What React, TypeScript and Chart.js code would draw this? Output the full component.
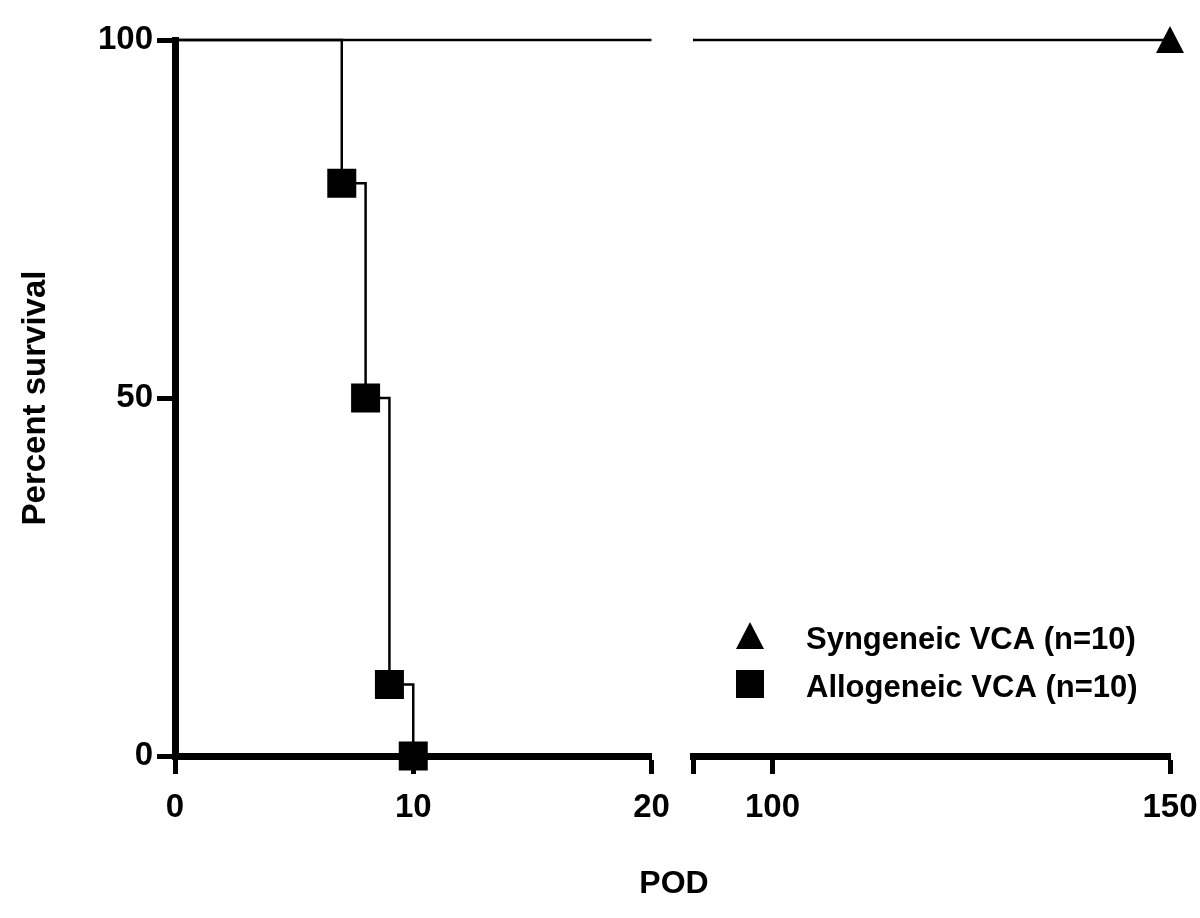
import { useEffect, useRef } from "react";
import { Chart, registerables } from "chart.js";

Chart.register(...registerables);

const FONT = '"Liberation Sans", Arial, Helvetica, sans-serif';

// Kaplan-Meier steps (day, percent surviving)
const syngeneicDays = [0, 150];
const syngeneicSurvival = [100, 100];
const allogeneicDays = [0, 7, 8, 9, 10];
const allogeneicSurvival = [100, 80, 50, 10, 0];

const seriesLabels = ["Syngeneic VCA (n=10)", "Allogeneic VCA (n=10)"];

// the x axis is broken in two segments
const leftXTicks = [0, 10, 20];
const rightXTicks = [90, 100, 150];
const unlabelledTicks = [90];
const yTicks = [0, 50, 100];

const AXIS_HEIGHT = 162;
const tickFont = { family: FONT, size: 33, weight: "bold" as const };

function makeTriangle(size: number) {
  const c = document.createElement("canvas");
  c.width = size;
  c.height = size;
  const g = c.getContext("2d")!;
  g.fillStyle = "#000";
  g.beginPath();
  g.moveTo(size / 2, 0);
  g.lineTo(size, size - 1);
  g.lineTo(0, size - 1);
  g.closePath();
  g.fill();
  return c;
}

function buildDatasets(tri: HTMLCanvasElement, clip: any) {
  return [
    {
      label: seriesLabels[0],
      data: syngeneicDays.map((d, i) => ({ x: d, y: syngeneicSurvival[i] })),
      stepped: true,
      borderColor: "#000",
      borderWidth: 2.5,
      pointStyle: tri,
      pointRadius: syngeneicDays.map((_, i) => (i === syngeneicDays.length - 1 ? 14 : 0)),
      clip,
    },
    {
      label: seriesLabels[1],
      data: allogeneicDays.map((d, i) => ({ x: d, y: allogeneicSurvival[i] })),
      stepped: true,
      borderColor: "#000",
      borderWidth: 2.5,
      pointStyle: "rect",
      pointRadius: allogeneicDays.map((_, i) => (i === 0 ? 0 : 20.5)),
      pointBackgroundColor: "#000",
      pointBorderColor: "#000",
      pointBorderWidth: 0,
      clip,
    },
  ];
}

function xScale(ticks: number[]) {
  return {
    type: "linear",
    min: ticks[0],
    max: ticks[ticks.length - 1],
    afterBuildTicks: (s: any) => {
      s.ticks = ticks.map((v) => ({ value: v }));
    },
    afterFit: (s: any) => {
      // keep the plot width fixed; edge labels fit inside the layout padding
      s.height = AXIS_HEIGHT;
      s.paddingLeft = 0;
      s.paddingRight = 0;
    },
    grid: { drawOnChartArea: false, tickLength: 18, tickWidth: 5, tickColor: "#000" },
    border: { display: true, color: "#000", width: 7 },
    ticks: {
      color: "#000",
      font: tickFont,
      padding: 14,
      maxRotation: 0,
      autoSkip: false,
      callback: (v: any) => (unlabelledTicks.includes(v) ? "" : String(v)),
    },
  };
}

const legendPlugin = {
  id: "cornerLegend",
  afterDraw(chart: any) {
    const { ctx, chartArea } = chart;
    const tri = chart.data.datasets[0].pointStyle;
    const mx = chartArea.left + 57;
    const tx = chartArea.left + 113;
    const rows = [chartArea.top + 596, chartArea.top + 644];
    ctx.save();
    ctx.fillStyle = "#000";
    ctx.drawImage(tri, mx - 14, rows[0] - 14, 28, 28);
    ctx.fillRect(mx - 14, rows[1] - 14, 28, 28);
    ctx.font = `bold 31px ${FONT}`;
    ctx.textBaseline = "alphabetic";
    ctx.textAlign = "left";
    chart.data.datasets.forEach((ds: any, i: number) => {
      ctx.fillText(ds.label, tx, rows[i] + 13);
    });
    ctx.restore();
  },
};

function LeftPanel() {
  const ref = useRef<HTMLCanvasElement>(null);
  useEffect(() => {
    const ctx = ref.current?.getContext("2d");
    if (!ctx) return;
    const tri = makeTriangle(28);
    const chart = new Chart(ctx, {
      type: "line",
      data: { datasets: buildDatasets(tri, { left: 0, top: 20, right: 0, bottom: 30 }) as any },
      options: {
        animation: false,
        responsive: true,
        maintainAspectRatio: false,
        events: [],
        layout: { padding: { left: 0, right: 20, top: 40, bottom: 0 } },
        plugins: { legend: { display: false }, tooltip: { enabled: false } },
        scales: {
          x: xScale(leftXTicks) as any,
          y: {
            type: "linear",
            min: yTicks[0],
            max: yTicks[yTicks.length - 1],
            afterBuildTicks: (s: any) => {
              s.ticks = yTicks.map((v) => ({ value: v }));
            },
            afterFit: (s: any) => {
              s.width = 175;
              s.paddingTop = 0;
              s.paddingBottom = 0;
            },
            grid: { drawOnChartArea: false, tickLength: 18, tickWidth: 5, tickColor: "#000" },
            border: { display: true, color: "#000", width: 7 },
            ticks: { color: "#000", font: tickFont, padding: 4 },
            title: {
              display: true,
              text: "Percent survival",
              color: "#000",
              font: { family: FONT, size: 33, weight: "bold" },
              padding: { top: 16, bottom: 0 },
            },
          },
        },
      },
    });
    return () => chart.destroy();
  }, []);
  return <canvas ref={ref} />;
}

function RightPanel() {
  const ref = useRef<HTMLCanvasElement>(null);
  useEffect(() => {
    const ctx = ref.current?.getContext("2d");
    if (!ctx) return;
    const tri = makeTriangle(28);
    const chart = new Chart(ctx, {
      type: "line",
      data: { datasets: buildDatasets(tri, { left: 0, top: 20, right: 20, bottom: 30 }) as any },
      options: {
        animation: false,
        responsive: true,
        maintainAspectRatio: false,
        events: [],
        layout: { padding: { left: 21, right: 30, top: 40, bottom: 0 } },
        plugins: { legend: { display: false }, tooltip: { enabled: false } },
        scales: {
          x: xScale(rightXTicks) as any,
          y: { type: "linear", min: yTicks[0], max: yTicks[yTicks.length - 1], display: false },
        },
      },
      plugins: [legendPlugin],
    });
    return () => chart.destroy();
  }, []);
  return <canvas ref={ref} />;
}

export default function App() {
  return (
    <div style={{ position: "absolute", left: 0, top: 0, width: 1200, height: 918, background: "#fff" }}>
      <div style={{ position: "absolute", left: 0, top: 0, width: 672, height: 918 }}>
        <LeftPanel />
      </div>
      <div style={{ position: "absolute", left: 672, top: 0, width: 528, height: 918 }}>
        <RightPanel />
      </div>
      <div
        style={{
          position: "absolute",
          left: 574,
          top: 866,
          width: 200,
          textAlign: "center",
          font: `bold 32px ${FONT}`,
          lineHeight: "32px",
          color: "#000",
        }}
      >
        POD
      </div>
    </div>
  );
}
